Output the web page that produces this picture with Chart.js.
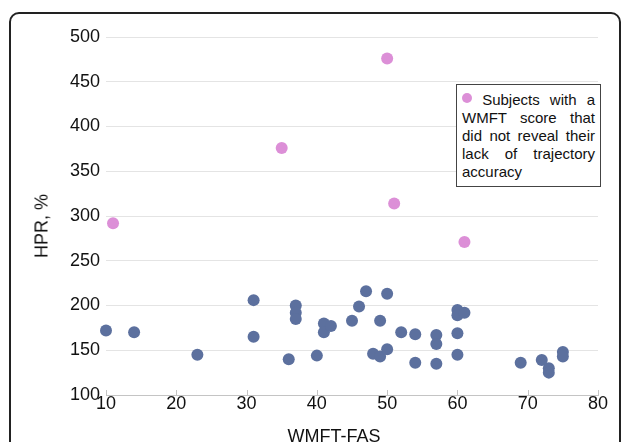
<!DOCTYPE html>
<html>
<head>
<meta charset="utf-8">
<script src="https://cdn.jsdelivr.net/npm/chart.js@4"></script>
<style>
  html, body { margin: 0; padding: 0; background: #fff; overflow: hidden; }
  #wrap { position: relative; width: 627px; height: 442px; overflow: hidden; font-family: "Liberation Sans", Arial, sans-serif; }
  #frame { position: absolute; left: 9px; top: 12px; width: 612px; height: 480px; border: 2px solid #222; border-radius: 10px; box-sizing: border-box; }
  canvas { position: absolute; left: 0; top: 0; }
  #legend { position: absolute; left: 456px; top: 84px; width: 145px; height: 103px; border: 1px solid #444; box-sizing: border-box; padding: 6px 5px 0 5px; background: #fff; font-size: 15px; line-height: 18px; color: #111; }
  #legend .l { text-align: justify; text-align-last: justify; white-space: nowrap; }
  #legend .l.last { text-align-last: left; }
  #legend .dot { display: inline-block; width: 10px; height: 10px; border-radius: 50%; vertical-align: 2px; }
  #ytitle { position: absolute; left: 42px; top: 226px; transform: translate(-50%, -50%) rotate(-90deg); font-size: 18px; color: #111; white-space: nowrap; }
  #xtitle { position: absolute; left: 334px; top: 425px; transform: translateX(-50%); font-size: 18px; line-height: 22px; color: #111; white-space: nowrap; }
</style>
</head>
<body>
<div id="wrap">
  <div id="frame"></div>
  <canvas id="c" width="627" height="442"></canvas>
  <div id="legend"></div>
  <div id="ytitle"></div>
  <div id="xtitle"></div>
</div>
<script>
// ---- data ----
const xTitle = "WMFT-FAS";
const yTitle = "HPR, %";
const legendLines = ["Subjects with a", "WMFT score that", "did not reveal their", "lack of trajectory", "accuracy"];

const blueX = [10, 14, 23, 31, 31, 36, 37, 37, 37, 40, 41, 41, 42, 45, 46, 47, 48, 49, 49, 50, 50, 52, 54, 54, 57, 57, 57, 60, 60, 61, 60, 60, 69, 72, 73, 73, 75, 75];
const blueY = [172, 170, 145, 206, 165, 140, 200, 192, 185, 144, 180, 170, 177, 183, 199, 216, 146, 183, 143, 213, 151, 170, 168, 136, 167, 157, 135, 195, 189, 192, 169, 145, 136, 139, 130, 125, 148, 143];

const pinkX = [50, 35, 51, 11, 61];
const pinkY = [476, 376, 314, 292, 271];

const xTicks = [10, 20, 30, 40, 50, 60, 70, 80];
const yTicks = [100, 150, 200, 250, 300, 350, 400, 450, 500];

const blueColor = "rgb(92,112,158)";
const pinkColor = "rgb(220,143,215)";

// ---- text elements ----
document.getElementById("xtitle").textContent = xTitle;
document.getElementById("ytitle").textContent = yTitle;
const lg = document.getElementById("legend");
legendLines.forEach((t, i) => {
  const d = document.createElement("div");
  d.className = "l" + (i === legendLines.length - 1 ? " last" : "");
  if (i === 0) {
    const dot = document.createElement("span");
    dot.className = "dot";
    dot.style.background = pinkColor;
    d.appendChild(dot);
    d.appendChild(document.createTextNode(" " + t));
  } else {
    d.textContent = t;
  }
  lg.appendChild(d);
});

const toPts = (xs, ys) => xs.map((x, i) => ({ x: x, y: ys[i] }));

const innerTicks = {
  id: "innerTicks",
  afterDatasetsDraw(chart) {
    const xs = chart.scales.x;
    const ctx = chart.ctx;
    ctx.save();
    ctx.strokeStyle = "#c4c4c4";
    ctx.lineWidth = 1;
    xTicks.forEach(v => {
      const px = Math.round(xs.getPixelForValue(v)) + 0.5;
      ctx.beginPath();
      ctx.moveTo(px, chart.chartArea.bottom);
      ctx.lineTo(px, chart.chartArea.bottom - 5);
      ctx.stroke();
    });
    ctx.restore();
  }
};

new Chart(document.getElementById("c"), {
  type: "scatter",
  data: {
    datasets: [
      { label: "Other subjects", data: toPts(blueX, blueY), backgroundColor: blueColor, borderWidth: 0, pointRadius: 6, pointHoverRadius: 6, clip: false },
      { label: legendLines.join(" "), data: toPts(pinkX, pinkY), backgroundColor: pinkColor, borderWidth: 0, pointRadius: 6, pointHoverRadius: 6, clip: false }
    ]
  },
  options: {
    responsive: false,
    animation: false,
    events: [],
    layout: { padding: { left: 0, right: 29, top: 37, bottom: 0 } },
    plugins: { legend: { display: false }, tooltip: { enabled: false } },
    scales: {
      x: {
        type: "linear", min: 10, max: 80,
        afterBuildTicks: s => { s.ticks = xTicks.map(v => ({ value: v })); },
        afterFit: s => { s.height = 47; },
        grid: { display: false, drawTicks: false },
        border: { display: true, color: "#c4c4c4", width: 1 },
        ticks: { padding: -2, color: "#111", font: { family: "Liberation Sans", size: 18 } }
      },
      y: {
        type: "linear", min: 100, max: 500,
        afterBuildTicks: s => { s.ticks = yTicks.map(v => ({ value: v })); },
        afterFit: s => { s.width = 106; },
        grid: { color: "#e4e4e4", lineWidth: 1, drawTicks: false },
        border: { display: false },
        ticks: { padding: 6, color: "#111", font: { family: "Liberation Sans", size: 18 } }
      }
    }
  },
  plugins: [innerTicks]
});
</script>
</body>
</html>
